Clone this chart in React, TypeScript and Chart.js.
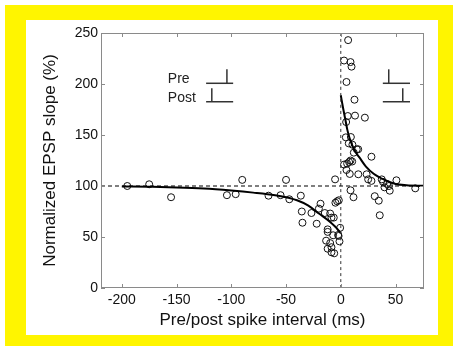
import React, { useEffect, useRef } from "react";
import { Chart, registerables } from "chart.js";
Chart.register(...registerables);

// Scatter data: spike interval (ms) and normalized EPSP slope (%)
const intervalMs = [
  -195, -175, -155, -104, -96, -90, -66, -55, -50, -47, -36.5, -35.6, -35, -26.8, -22, -18.5, -20, -14.6,
  -12, -12, -13.4, -12, -9.7, -8.5, -9.7, -8.5, -8.5, -6, -6.4, -7, -4.9, -3.3, -1.8, -5.2, -2.4, -0.6, -1.2, -2,
  6.7, 3, 8.9, 9.8, 5.2, 12.5, 6.4, 13, 22, 4.9, 4.6, 9.2, 7.3, 10.6, 11.9, 14.6, 15.9, 28, 3, 5.8, 7.6, 8.9,
  10.4, 5.2, 8.2, 16, 23.6, 25, 28, 8.9, 11.6, 31, 34.7, 35.6, 37.4, 38.6, 39.9, 42.3, 44, 44.7, 50.8, 68,
];
const epspSlope = [
  100, 101.7, 89, 91, 92, 106, 90.5, 91, 106, 87, 90.5, 75, 64, 73.5, 63, 82.6, 77.8, 73.5,
  57.5, 55, 46.4, 38.5, 73, 69, 44, 40, 35, 34, 69, 51.7, 83.6, 85, 86, 106.5, 52, 59, 45.7, 51,
  243, 223, 221.5, 217, 202, 184.6, 168.6, 169, 167, 162.7, 147.7, 148, 141.8, 140.5, 132.7, 136, 136, 128.7, 121, 122, 123.5, 125,
  124, 115.7, 111.8, 111.5, 111.5, 106.5, 105, 95.8, 89, 90, 85.6, 71.3, 106.5, 104, 98.7, 102, 100, 95.4, 105.6, 97.7,
];

// Fitted curves
const fitLeftX = [-200, -175, -150, -125, -100, -80, -60, -50, -40, -30, -20, -10, -5, 0];
const fitLeftY = [99.6, 99.2, 98.6, 97.5, 95.5, 93.5, 91, 89, 86, 81, 73, 65, 60, 54];
const fitRightX = [0, 2, 4, 6, 8, 10, 13, 17, 23, 30, 40, 50, 60, 76];
const fitRightY = [189, 177, 166, 155, 147, 141, 134, 128, 119, 112, 106, 102, 100.8, 100.2];

// Axes
const xMin = -219;
const xMax = 76;
const yMin = 0;
const yMax = 250;
const xTicks = [-200, -150, -100, -50, 0, 50];
const yTicks = [0, 50, 100, 150, 200, 250];
const baselineY = 100;

// Inset schematic: labels and spike-timing symbols (data coordinates)
const insetLabels = ["Pre", "Post"];
const insetLabelX = [-158, -158];
const insetLabelY = [205, 186.5];
// each symbol: baseline from x0 to x1 at yb, spike at xs from yb up to yt
const symX0 = [-123, -123, 38.4, 38.4];
const symX1 = [-98.3, -98.3, 63.2, 63.2];
const symXs = [-104, -117.8, 43.8, 56.6];
const symYb = [200.7, 182.6, 200.7, 182.6];
const symYt = [214.4, 195.8, 214.4, 195.8];

const FONT = "'Liberation Sans', Arial, Helvetica, sans-serif";

const framePlugin = {
  id: "frameTicks",
  afterDatasetsDraw(chart: any) {
    const { ctx, chartArea: a, scales } = chart;
    const xs = scales.x;
    const ys = scales.y;
    ctx.save();
    ctx.strokeStyle = "#8a8a8a";
    ctx.lineWidth = 1;
    ctx.strokeRect(a.left + 0.5, a.top + 0.5, a.right - a.left - 1, a.bottom - a.top - 1);
    ctx.beginPath();
    const tl = 4;
    xTicks.forEach((v) => {
      const px = Math.round(xs.getPixelForValue(v)) + 0.5;
      ctx.moveTo(px, a.bottom);
      ctx.lineTo(px, a.bottom - tl);
      ctx.moveTo(px, a.top);
      ctx.lineTo(px, a.top + tl);
    });
    yTicks.forEach((v) => {
      const py = Math.round(ys.getPixelForValue(v)) + 0.5;
      ctx.moveTo(a.left, py);
      ctx.lineTo(a.left + tl, py);
      ctx.moveTo(a.right, py);
      ctx.lineTo(a.right - tl, py);
    });
    ctx.stroke();
    // inset labels
    ctx.fillStyle = "#222";
    ctx.font = `14px ${FONT}`;
    ctx.textBaseline = "middle";
    ctx.textAlign = "left";
    insetLabels.forEach((t, i) => {
      ctx.fillText(t, xs.getPixelForValue(insetLabelX[i]), ys.getPixelForValue(insetLabelY[i]));
    });
    ctx.restore();
  },
};

export default function App() {
  const ref = useRef<HTMLCanvasElement | null>(null);
  useEffect(() => {
    document.body.style.margin = "0";
    const canvas = ref.current;
    if (!canvas) return;

    const lineDs = (pts: { x: number; y: number }[], color: string, width: number, dash: number[] = []) => ({
      type: "scatter" as const,
      data: pts,
      showLine: true,
      borderColor: color,
      borderWidth: width,
      borderDash: dash,
      pointRadius: 0,
      pointHoverRadius: 0,
      fill: false,
      tension: 0.4,
      cubicInterpolationMode: "monotone" as const,
    });

    const symbolSets: any[] = [];
    symX0.forEach((_, i) => {
      symbolSets.push({ ...lineDs([{ x: symX0[i], y: symYb[i] }, { x: symX1[i], y: symYb[i] }], "#333", 1.5), tension: 0 });
      symbolSets.push({ ...lineDs([{ x: symXs[i], y: symYb[i] }, { x: symXs[i], y: symYt[i] }], "#333", 1.5), tension: 0 });
    });

    const chart = new Chart(canvas, {
      type: "scatter",
      data: {
        datasets: [
          { ...lineDs([{ x: xMin, y: baselineY }, { x: xMax, y: baselineY }], "#000", 1.2, [4, 3]), tension: 0 },
          { ...lineDs([{ x: 0, y: yMin }, { x: 0, y: yMax }], "#333", 1, [3, 3]), tension: 0 },
          lineDs(fitLeftX.map((x, i) => ({ x, y: fitLeftY[i] })), "#000", 2),
          lineDs(fitRightX.map((x, i) => ({ x, y: fitRightY[i] })), "#000", 2),
          ...symbolSets,
          {
            type: "scatter",
            data: intervalMs.map((x, i) => ({ x, y: epspSlope[i] })),
            pointStyle: "circle",
            pointRadius: 3.5,
            pointBorderWidth: 1,
            pointBorderColor: "#111",
            pointBackgroundColor: "rgba(0,0,0,0)",
            showLine: false,
          },
        ] as any,
      },
      options: {
        animation: false,
        responsive: false,
        maintainAspectRatio: false,
        events: [],
        layout: { padding: { left: 0, top: 33, right: 29, bottom: 0 } },
        plugins: { legend: { display: false }, tooltip: { enabled: false } },
        scales: {
          x: {
            type: "linear",
            min: xMin,
            max: xMax,
            afterFit: (s: any) => {
              s.height = 61;
            },
            afterBuildTicks: (s: any) => {
              s.ticks = xTicks.map((v) => ({ value: v }));
            },
            grid: { display: false, drawTicks: false },
            border: { display: false },
            ticks: { color: "#111", padding: 4, font: { family: FONT, size: 14 }, maxRotation: 0 },
            title: {
              display: true,
              text: "Pre/post spike interval (ms)",
              color: "#111",
              font: { family: FONT, size: 17 },
              padding: { top: 0, bottom: 18 },
            },
          },
          y: {
            type: "linear",
            min: yMin,
            max: yMax,
            afterFit: (s: any) => {
              s.width = 101;
            },
            afterBuildTicks: (s: any) => {
              s.ticks = yTicks.map((v) => ({ value: v }));
            },
            grid: { display: false, drawTicks: false },
            border: { display: false },
            ticks: { color: "#111", padding: 3, font: { family: FONT, size: 14 } },
            title: {
              display: true,
              text: "Normalized EPSP slope (%)",
              color: "#111",
              font: { family: FONT, size: 17 },
              padding: { top: 40, bottom: 0 },
            },
          },
        },
      } as any,
      plugins: [framePlugin],
    });
    return () => chart.destroy();
  }, []);

  return (
    <div style={{ position: "relative", width: 453, height: 349, background: "#fff", overflow: "hidden" }}>
      <div style={{ position: "absolute", left: 5, top: 5, width: 448, height: 341, background: "#FFF500" }} />
      <div style={{ position: "absolute", left: 26, top: 20, width: 412, height: 315, background: "#fff" }} />
      <canvas ref={ref} width={453} height={349} style={{ position: "absolute", left: 0, top: 0, width: 453, height: 349 }} />
    </div>
  );
}
